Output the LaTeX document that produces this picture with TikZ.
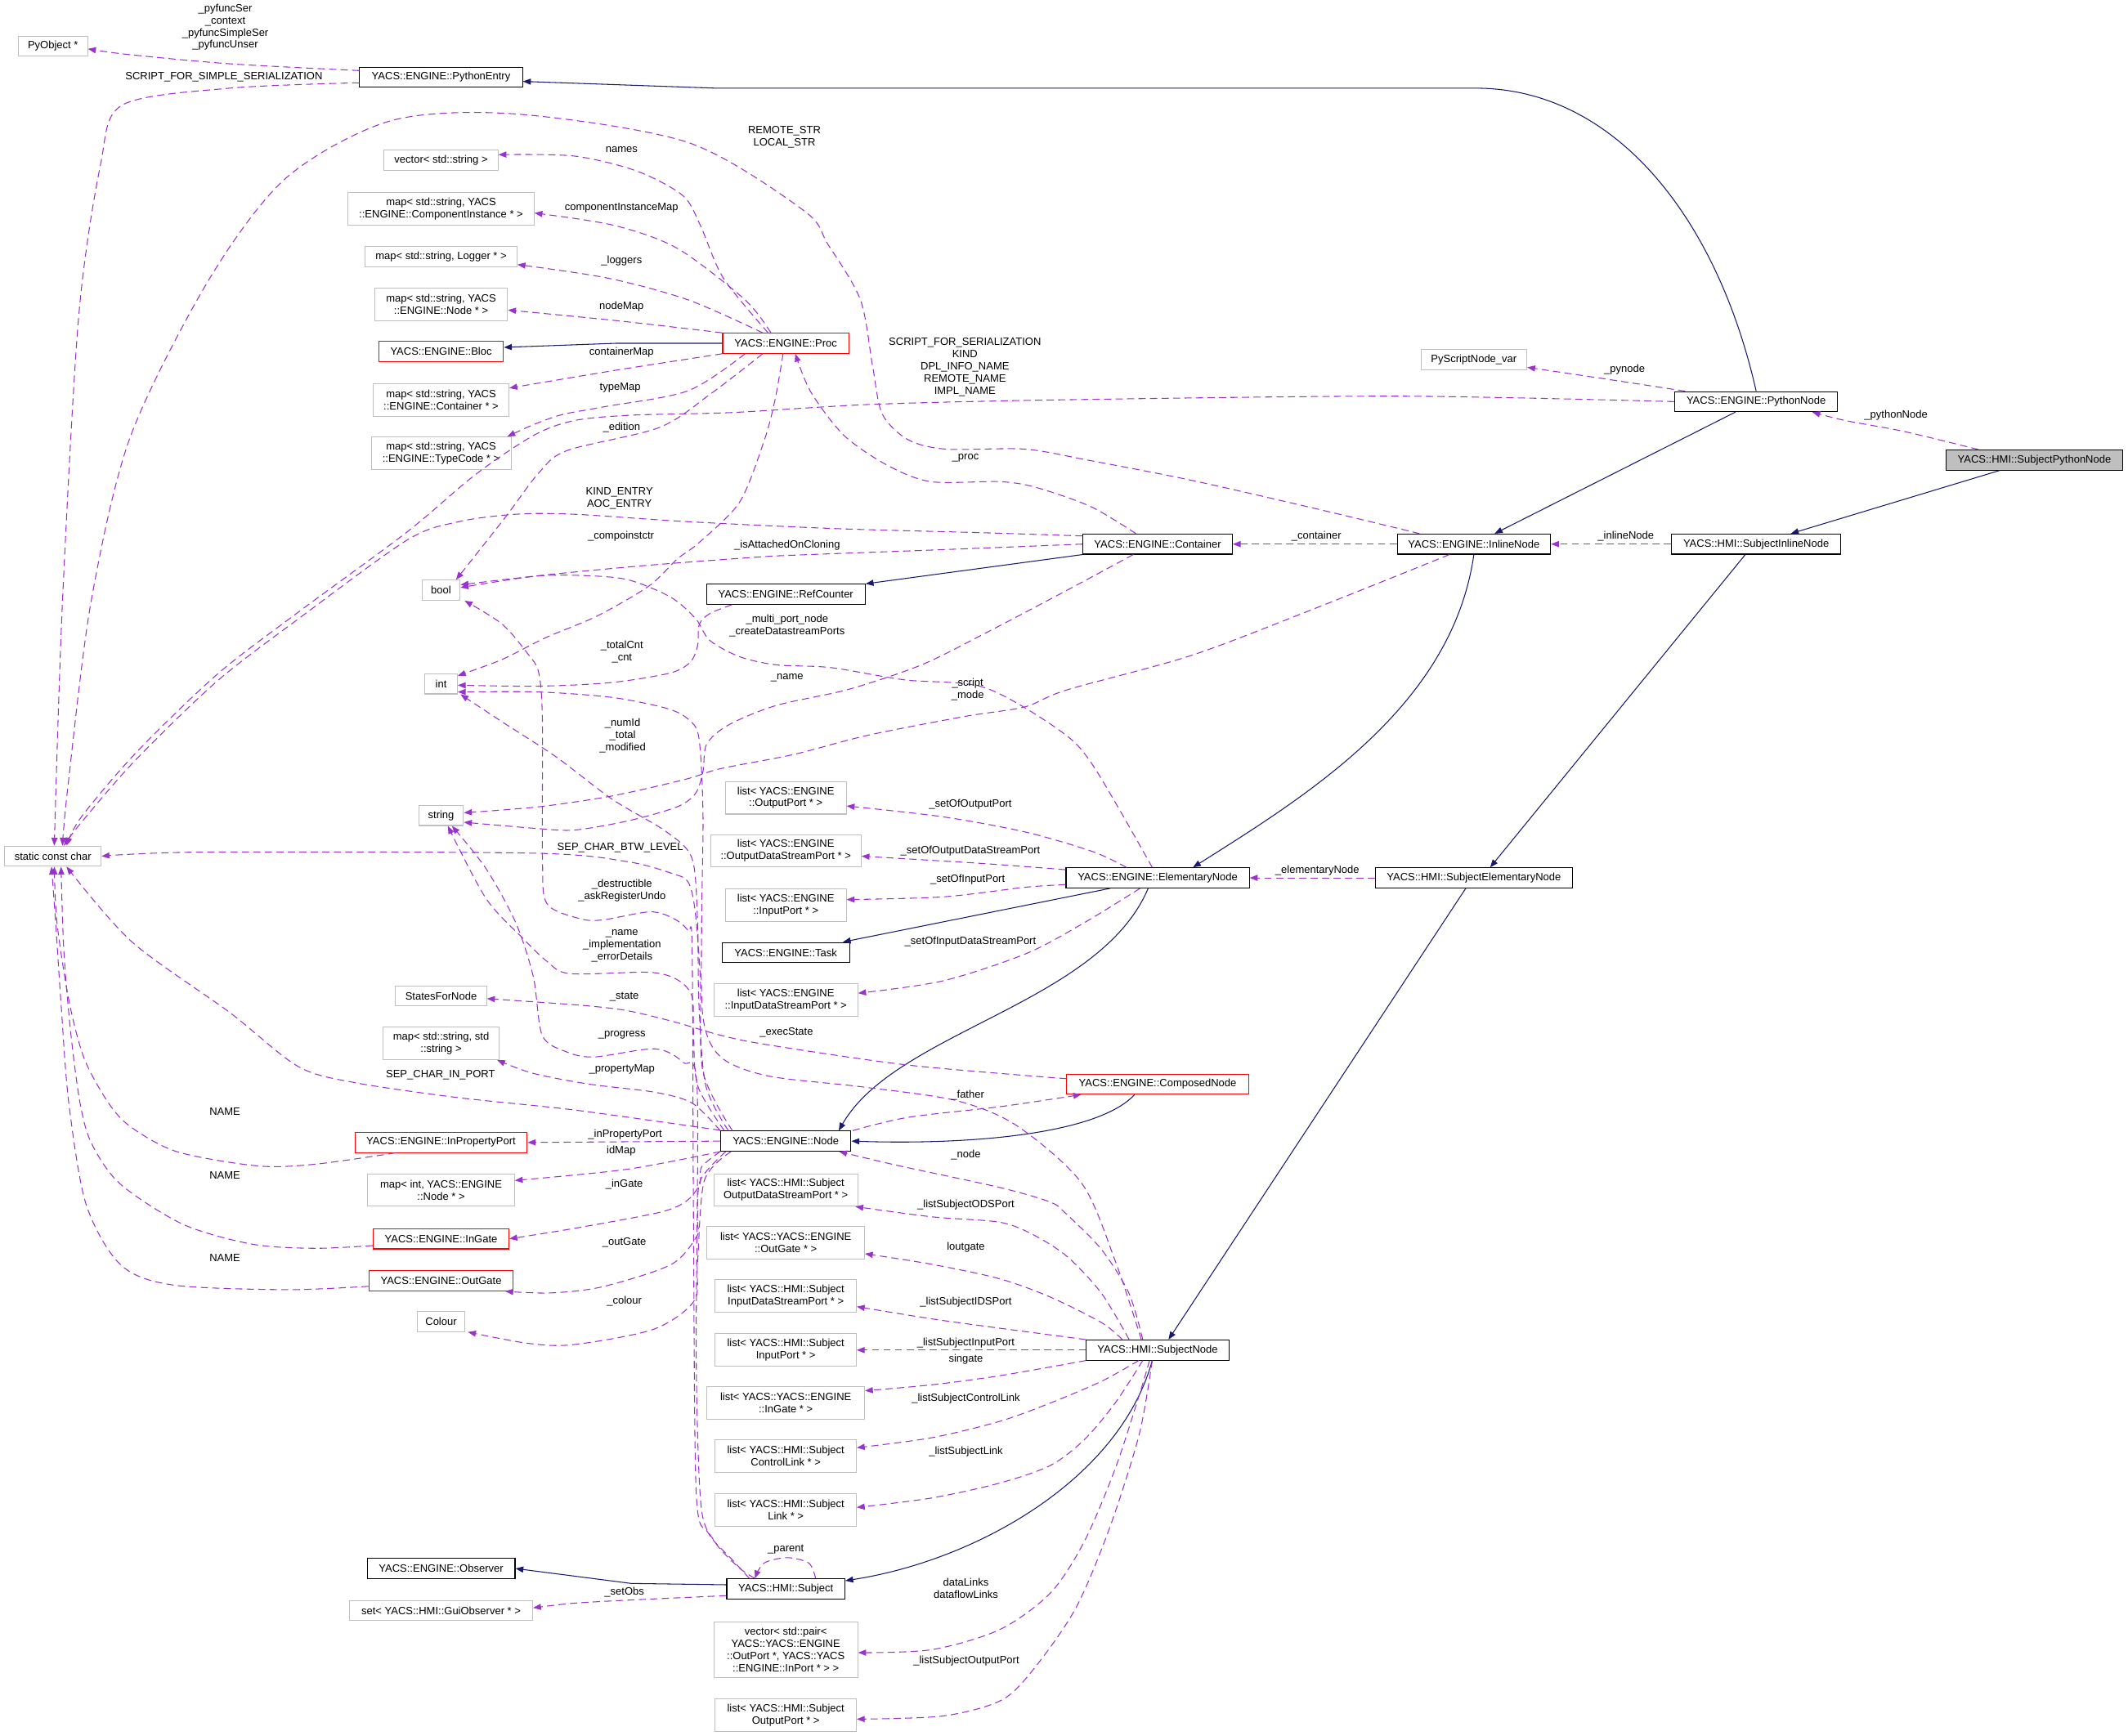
\documentclass[tikz,border=0pt]{standalone}
\usepackage{fontspec}
\setmainfont{Liberation Sans}
\usetikzlibrary{arrows.meta,calc}
\definecolor{inhblue}{HTML}{191970}
\definecolor{usepurple}{HTML}{9A32CD}
\definecolor{extgrey}{HTML}{BFBFBF}
\definecolor{docgrey}{HTML}{BFBFBF}
\newcommand\dox{\fontsize{7.4}{8.5}\selectfont}

\begin{document}
\begin{tikzpicture}[x=0.0332cm, y=-0.0332cm,
    box/.style={draw, fill=white, font=\dox, align=center, inner xsep=1pt, inner ysep=1pt,
                minimum height=14pt, line width=0.6pt},
    cls/.style={box},
    ext/.style={box, draw=extgrey},
    trunc/.style={box, draw=red},
    doc/.style={box, fill=docgrey},
    h2/.style={minimum height=22.6pt},
    h4/.style={minimum height=38.6pt},
    wd/.style={minimum width=#1*0.0332cm},
    lbl/.style={font=\dox, align=center, inner sep=0pt},
    tip/.style={-{Triangle[length=5.5pt,width=4.2pt]}},
    inh/.style={tip, draw=inhblue, line width=0.6pt},
    usage/.style={tip, draw=usepurple, line width=0.6pt, dash pattern=on 5pt off 3pt}]
  \fill[white] (0,0) rectangle (1568,1279);
  \useasboundingbox (0,0) rectangle (1568,1279);

  % left columns
  \node[ext, wd=51] (pyobj) at (39,34) {PyObject *};
  \node[ext, wd=71] (scc) at (39,631) {static const char};
  \node[cls, wd=120] (pyentry) at (325,57) {YACS::ENGINE::PythonEntry};
  \node[ext, wd=84] (vecstr) at (325,118) {vector< std::string >};
  \node[ext, h2, wd=137] (mapci) at (325,154) {map< std::string, YACS\\::ENGINE::ComponentInstance * >};
  \node[ext, wd=112] (maplog) at (325,189) {map< std::string, Logger * >};
  \node[ext, h2, wd=98] (mapnode) at (325,224.5) {map< std::string, YACS\\::ENGINE::Node * >};
  \node[trunc, wd=92] (bloc) at (325,259) {YACS::ENGINE::Bloc};
  \node[ext, h2, wd=100] (mapcont) at (325,295) {map< std::string, YACS\\::ENGINE::Container * >};
  \node[ext, h2, wd=103] (maptc) at (325,334) {map< std::string, YACS\\::ENGINE::TypeCode * >};
  \node[ext, wd=28] (bool) at (325,435) {bool};
  \node[ext, wd=24] (int) at (325,504) {int};
  \node[ext, wd=33] (string) at (325,601) {string};
  \node[ext, wd=67] (states) at (325,734) {StatesForNode};
  \node[ext, h2, wd=86] (mapss) at (325,769) {map< std::string, std\\::string >};
  \node[trunc, wd=127] (inprop) at (325,842) {YACS::ENGINE::InPropertyPort};
  \node[ext, h2, wd=108] (mapid) at (325,877) {map< int, YACS::ENGINE\\::Node * >};
  \node[trunc, wd=100] (ingate) at (325,913) {YACS::ENGINE::InGate};
  \node[trunc, wd=106] (outgate) at (325,944) {YACS::ENGINE::OutGate};
  \node[ext, wd=35] (colour) at (325,974) {Colour};
  \node[cls, wd=109] (observer) at (325,1156) {YACS::ENGINE::Observer};
  \node[ext, wd=135] (setobs) at (325,1187) {set< YACS::HMI::GuiObserver * >};

  % middle column
  \node[trunc, wd=93] (proc) at (579,253) {YACS::ENGINE::Proc};
  \node[cls, wd=117] (refcnt) at (579,438) {YACS::ENGINE::RefCounter};
  \node[ext, h2, wd=89] (lop) at (579,588) {list< YACS::ENGINE\\::OutputPort * >};
  \node[ext, h2, wd=111] (lods) at (579,627) {list< YACS::ENGINE\\::OutputDataStreamPort * >};
  \node[ext, h2, wd=89] (lip) at (579,667) {list< YACS::ENGINE\\::InputPort * >};
  \node[cls, wd=94] (task) at (579,702) {YACS::ENGINE::Task};
  \node[ext, h2, wd=106] (lids) at (579,737) {list< YACS::ENGINE\\::InputDataStreamPort * >};
  \node[cls, wd=96] (enode) at (579,841) {YACS::ENGINE::Node};
  \node[ext, h2, wd=106] (lsods) at (579,877) {list< YACS::HMI::Subject\\OutputDataStreamPort * >};
  \node[ext, h2, wd=116] (lsog) at (579,916) {list< YACS::YACS::ENGINE\\::OutGate * >};
  \node[ext, h2, wd=104] (lsids) at (579,955) {list< YACS::HMI::Subject\\InputDataStreamPort * >};
  \node[ext, h2, wd=104] (lsip) at (579,995) {list< YACS::HMI::Subject\\InputPort * >};
  \node[ext, h2, wd=116] (lsig) at (579,1034) {list< YACS::YACS::ENGINE\\::InGate * >};
  \node[ext, h2, wd=104] (lscl) at (579,1073) {list< YACS::HMI::Subject\\ControlLink * >};
  \node[ext, h2, wd=104] (lsl) at (579,1113) {list< YACS::HMI::Subject\\Link * >};
  \node[cls, wd=87] (subject) at (579,1171) {YACS::HMI::Subject};
  \node[ext, h4, wd=106] (vecpair) at (579,1216) {vector< std::pair<\\YACS::YACS::ENGINE\\::OutPort *, YACS::YACS\\::ENGINE::InPort * > >};
  \node[ext, h2, wd=104] (lsop) at (579,1264) {list< YACS::HMI::Subject\\OutputPort * >};

  % right columns
  \node[cls, wd=110] (container) at (853,401) {YACS::ENGINE::Container};
  \node[cls, wd=135] (elem) at (853,647) {YACS::ENGINE::ElementaryNode};
  \node[trunc, wd=134] (composed) at (853,799) {YACS::ENGINE::ComposedNode};
  \node[cls, wd=105] (subjnode) at (853,995) {YACS::HMI::SubjectNode};
  \node[ext, wd=78] (pyvar) at (1086,265) {PyScriptNode\_var};
  \node[cls, wd=113] (inline) at (1086,401) {YACS::ENGINE::InlineNode};
  \node[cls, wd=145] (subjelem) at (1086,647) {YACS::HMI::SubjectElementaryNode};
  \node[cls, wd=120] (pynode) at (1294,296) {YACS::ENGINE::PythonNode};
  \node[cls, wd=125] (subjinline) at (1294,401) {YACS::HMI::SubjectInlineNode};
  \node[doc, wd=130] (subjpy) at (1499,339) {YACS::HMI::SubjectPythonNode};

  % inheritance
  \draw[inh] (pynode.north) .. controls (1265,160) and (1190,66) .. (1089,65) -- (528,65) -- ($(pyentry.east)+(0,3)$);
  \draw[inh] (subjpy) -- (subjinline);
  \draw[inh] (pynode) -- (inline);
  \draw[inh] (inline.south) .. controls (1070,520) and (965,585) .. ($(elem.north)+(26,0)$);
  \draw[inh] ($(subjinline.south)+(-8,0)$) -- ($(subjelem.north)+(12,0)$);
  \draw[inh] (container.south west) -- (refcnt.north east);
  \draw[inh] ($(elem.south)+(-35,0)$) -- ($(task.north)+(42,0)$);
  \draw[inh] ($(elem.south)+(-7,0)$) .. controls (810,740) and (660,760) .. ($(enode.north)+(39,0)$);
  \draw[inh] ($(composed.south)+(-17,0)$) .. controls (810,835) and (720,844) .. (enode.east);
  \draw[inh] ($(subjelem.south)+(-6,0)$) -- ($(subjnode.north)+(8,0)$);
  \draw[inh] ($(subjnode.south)+(-4,0)$) .. controls (825,1090) and (720,1150) .. ($(subject.east)+(0,-6)$);
  \draw[inh] (proc.west) -- (454,253) -- ($(bloc.east)+(0,-3)$);
  \draw[inh] ($(subject.west)+(0,-3)$) -- (465,1167) -- (observer.east);

  % usage
  \draw[usage] plot[smooth] coordinates {($(pyentry.west)+(0,-5)$) (169,47) (93,40) ($(pyobj.east)+(0,2)$)};
  \draw[usage] plot[smooth] coordinates {($(pyentry.west)+(0,4)$) (169,65) (90,77.5) (74,121.7) (58,233) (46,444) ($(scc.north)+(1,0)$)};
  \draw[usage] plot[smooth] coordinates {($(inline.north)+(-40,0)$) (970,375) (878,354) (801,339) (755,331) (697,331)
      (669,324) (650,305) (643,270) (634,221) (610,180) (592,155) (507,105) (380,84) (288,89) (211,131) (154,206)
      (96,322) (67,444) (50,580) ($(scc.north)+(7,0)$)};
  \draw[usage] plot[smooth] coordinates {(pynode.west) (1033,292) (787,294.6) (643,298) (540,304) (465,306) (423,310)
      (393,321) (350,350) (300,392) (220,451) (160,497) (100,555) (60,602) ($(scc.north)+(10,0)$)};
  \draw[usage] plot[smooth] coordinates {($(container.west)+(0,-6)$) (723.5,392.6) (616,389.6) (507,384.5) (423,379)
      (380,379) (338,384.5) (300,398) (220,456) (160,502) (100,560) (60,606) ($(scc.north)+(8,0)$)};
  \draw[usage] plot[smooth] coordinates {($(proc.north)+(-13,0)$) (533,205) (516,166) (503,144) (469,126) (423,115) ($(vecstr.east)+(0,-4)$)};
  \draw[usage] plot[smooth] coordinates {($(proc.north)+(-11,0)$) (549,221) (499,183) (452,166) ($(mapci.east)+(0,3)$)};
  \draw[usage] plot[smooth] coordinates {($(proc.north)+(-17,0)$) (507,221) (448,205) ($(maplog.east)+(0,6)$)};
  \draw[usage] plot[smooth] coordinates {(proc.north west) (456,236.5) ($(mapnode.east)+(0,4)$)};
  \draw[usage] plot[smooth] coordinates {(proc.south west) (456,272.5) ($(mapcont.east)+(0,-9)$)};
  \draw[usage] plot[smooth] coordinates {($(proc.south)+(-30,0)$) (507,288) (444,300) (414,305.6) (393,313) ($(maptc.north east)+(-3,0)$)};
  \draw[usage] plot[smooth] coordinates {($(proc.south)+(-17,0)$) (524,290) (486,315) (418,332) (397,348.5) (372,381.7) ($(bool.north)+(11,0)$)};
  \draw[usage] plot[smooth] coordinates {($(proc.south)+(-2,0)$) (571,295) (563,325) (545,370) (515,400) (499,412)
      (478,432) (440,454) (402,470) (370,486) ($(int.east)+(0,-6)$)};
  \draw[usage] plot[smooth] coordinates {($(pynode.north west)+(8,0)$) (1181,279) ($(pyvar.south east)+(0,-2)$)};
  \draw[usage] plot[smooth] coordinates {($(subjpy.north west)+(24,0)$) (1403,318) (1360,310) ($(pynode.south east)+(-19,0)$)};
  \draw[usage] plot[smooth] coordinates {($(container.north)+(-16,0)$) (804,373.5) (764,359.4) (737,355) (686,355)
      (654,343) (622,321) (597.5,289) ($(proc.south)+(7,0)$)};
  \draw[usage] plot[smooth] coordinates {(container.west) (697,405) (589.5,409) (558,410.6) (477.7,416.6) (402,423.7) ($(bool.east)+(0,-4)$)};
  \draw[usage] plot[smooth] coordinates {($(elem.north)+(-4,0)$) (805.6,564.5) (781,538.5) (725.6,506.8) (666,501)
      (612,492) (572,490) (545,484) (523,472) (512.6,456) (494,440) (461.5,427) (424,424) (391.6,425) ($(bool.east)+(0,-2)$)};
  \draw[usage] plot[smooth] coordinates {($(refcnt.south west)+(19,0)$) (523.4,452) (515.3,460) (514,476) (508.6,488)
      (493.8,496) (450.8,503) (397,505.7) ($(int.east)+(0,1)$)};
  \draw[usage] plot[smooth] coordinates {($(subjnode.north)+(-12,0)$) (822,930) (797,872) (749,829.5) (704,811) (635,801)
      (566,793) (531,779) (518,750) (517,680) (518,600) (515,544) (507,530) (491,522) (451,514) (397,510) ($(int.east)+(0,6)$)};
  \draw[usage] plot[smooth] coordinates {($(enode.north west)+(6,0)$) (520,800) (515,740) (514,680) (510,633) (491,613)
      (451,589) (410,558) (370,532) ($(int.south east)+(2,0)$)};
  \draw[usage] plot[smooth] coordinates {($(inline.south)+(-18,0)$) (970,448) (878,483) (786,508.5) (755,521) (711,528)
      (639,542) (585,556) (531,566.5) (504.5,574.5) (451,586.6) (397,594.6) ($(string.east)+(0,-2)$)};
  \draw[usage] plot[smooth] coordinates {($(container.south)+(-18,0)$) (785.5,435.4) (724,467.7) (679,490) (625.5,508)
      (571.7,520) (536.8,534.3) (520.7,548.4) (518,568.5) (512.6,584.6) (499,594.6) (464,604.7) (424,611.7) (397,610.7)
      ($(string.east)+(0,5)$)};
  \draw[usage] plot[smooth] coordinates {($(enode.north west)+(3,0)$) (514,800) (511,760) (510,734.7) (500,722.6)
      (479,716.6) (420,717.6) (403,708.5) (385.7,692) (358,662) ($(string.south)+(5,0)$)};
  \draw[usage] plot[smooth] coordinates {($(subject.north west)+(21,0)$) (544,1155) (526.5,1136) (516.5,1109) (513,1000)
      (513.7,803) (503.3,783) (482.6,773) (437.6,779) (416.8,775) (399.5,763) (393,720) (380,680) (358,640) ($(string.south)+(8,0)$)};
  \draw[usage] plot[smooth] coordinates {($(subject.north west)+(17,0)$) (540,1150) (522,1130) (513,1100) (511,900)
      (510,700) (507,686) (496.4,677) (479,672) (444,678) (427,677) (403,666) (399.7,633) (399.7,532) (397,496) (389,482)
      (370,460) ($(bool.south east)+(3,0)$)};
  \draw[usage] plot[smooth] coordinates {($(composed.west)+(0,-4)$) (669.4,785) (565.6,770) (531,763) (496.4,753)
      (461.8,744.8) (427,740.8) ($(states.east)+(0,2)$)};
  \draw[usage] plot[smooth] coordinates {(enode.north west) (510,813) (482.6,805) (434,799) (392.6,791) ($(mapss.south east)+(-2,0)$)};
  \draw[usage] plot[smooth] coordinates {($(enode.north west)+(9,0)$) (518,790) (516,720) (512,670) (507,650) (496,644)
      (462,635) (393,628.8) (150,628) (scc.east)};
  \draw[usage] plot[smooth] coordinates {($(enode.west)+(0,-8)$) (422.6,818) (338,809) (262,798) (219.7,786) (169,746)
      (97,694) ($(scc.south)+(10,0)$)};
  \draw[usage] (enode.west) -- (inprop.east);
  \draw[usage] plot[smooth] coordinates {(enode.south west) (461.8,861.8) ($(mapid.east)+(0,-7)$)};
  \draw[usage] plot[smooth] coordinates {(enode.south west) (517,860) (515.6,872.7) (506,885) (486,893.5) (422.6,905.4) (ingate.east)};
  \draw[usage] plot[smooth] coordinates {($(enode.south west)+(4,0)$) (516,870) (514,900) (513.5,911) (494.4,932)
      (443.7,948.4) (405.7,952.9) ($(outgate.south east)+(-6,0)$)};
  \draw[usage] plot[smooth] coordinates {($(enode.south west)+(8,0)$) (519,870) (514,930) (511.4,958.8) (481.8,979.6)
      (422.6,991) (388.8,990) ($(colour.south east)+(2,0)$)};
  \draw[usage] plot[smooth] coordinates {($(inprop.south west)+(30,0)$) (232.4,858) (190,859.3) (131,849) (97,831)
      (80,813) (62,780) (50.7,737) (42,680) ($(scc.south)+(1,0)$)};
  \draw[usage] plot[smooth] coordinates {($(ingate.west)+(0,5)$) (232,920) (186,917) (135,902.4) (88.7,872.7) (67.6,843)
      (59,813) (52,760) (47,700) ($(scc.south)+(6,0)$)};
  \draw[usage] plot[smooth] coordinates {($(outgate.west)+(0,4)$) (211,950.5) (127,947) (88.7,932) (63.4,887.5)
      (50.7,813) (45,740) (41,680) ($(scc.south)+(-1,0)$)};
  \draw[usage] plot[smooth] coordinates {($(enode.north east)+(1,0)$) (669,823.5) (738.6,815.4) ($(composed.south west)+(11,0)$)};
  \draw[usage] plot[smooth] coordinates {($(subjnode.north)+(-11,0)$) (831.8,953) (811.7,921) (786,895) (774,886)
      (736.7,875.2) (661.6,859) ($(enode.south east)+(-9,0)$)};
  \draw[usage] plot[smooth] coordinates {($(subjnode.north)+(-21,0)$) (811.7,953.3) (786.7,926.4) (761.7,910.2)
      (736.7,900.8) (686.6,896.8) ($(lsods.south east)+(-2,0)$)};
  \draw[usage] plot[smooth] coordinates {($(subjnode.north)+(-26,0)$) (811.7,974.8) (774,956) (736.7,942.5) (686.6,931.8) ($(lsog.east)+(0,8)$)};
  \draw[usage] plot[smooth] coordinates {(subjnode.north west) (736.7,978.9) (686.6,972) ($(lsids.east)+(0,8)$)};
  \draw[usage] (subjnode.west) -- (lsip.east);
  \draw[usage] plot[smooth] coordinates {(subjnode.south west) (736.7,1013.9) (686.6,1020.6) ($(lsig.east)+(0,-9)$)};
  \draw[usage] plot[smooth] coordinates {($(subjnode.south)+(-14,0)$) (811.7,1018) (774,1034) (736.7,1047.5) (686.6,1059.6) ($(lscl.east)+(0,-6)$)};
  \draw[usage] plot[smooth] coordinates {($(subjnode.south)+(-11,0)$) (821.7,1034) (799,1061) (774,1080) (736.7,1093)
      (686.6,1104) ($(lsl.east)+(0,-2)$)};
  \draw[usage] plot[smooth] coordinates {($(subjnode.south)+(-6,0)$) (839.3,1028.7) (821.7,1082.5) (799,1136) (774,1174)
      (736.7,1201) (686.6,1215.8) ($(vecpair.east)+(0,2)$)};
  \draw[usage] plot[smooth] coordinates {($(subjnode.south)+(-4,0)$) (839.5,1056.8) (818,1125) (793,1184.6) (762.5,1229)
      (738,1253) (694.8,1264.7) ($(lsop.east)+(0,3)$)};
  \draw[usage] plot[smooth] coordinates {($(subject.north)+(22,0)$) (596,1152) (580,1148) (563,1152) ($(subject.north west)+(21,0)$)};
  \draw[usage] plot[smooth] coordinates {($(subject.west)+(0,5)$) (465,1179.2) (422.6,1181.6) ($(setobs.east)+(0,-2)$)};
  \draw[usage] (inline) -- (container);
  \draw[usage] (subjinline) -- (inline);
  \draw[usage] (subjelem) -- (elem);
  \draw[usage] plot[smooth] coordinates {($(elem.north)+(-23,0)$) (805.6,627.8) (756.4,613.4) (694.8,602) ($(lop.east)+(0,6)$)};
  \draw[usage] plot[smooth] coordinates {($(elem.west)+(0,-6)$) (725.6,636.5) ($(lods.east)+(0,4)$)};
  \draw[usage] plot[smooth] coordinates {($(elem.west)+(0,5)$) (756.4,653.8) (694.8,661) ($(lip.east)+(0,-4)$)};
  \draw[usage] plot[smooth] coordinates {($(elem.south)+(-13,0)$) (799.5,679.7) (756.4,702.7) (694.8,722.9) ($(lids.east)+(0,-5)$)};

  % edge labels
  \node[lbl] (lb-pyfunc) at (166,20) {\_pyfuncSer\\\_context\\\_pyfuncSimpleSer\\\_pyfuncUnser};
  \node[lbl] (lb-simple) at (165,57) {SCRIPT\_FOR\_SIMPLE\_SERIALIZATION};
  \node[lbl] (lb-remote) at (578,101) {REMOTE\_STR\\LOCAL\_STR};
  \node[lbl] (lb-names) at (458,110) {names};
  \node[lbl] (lb-compmap) at (458,153.5) {componentInstanceMap};
  \node[lbl] (lb-loggers) at (458,192) {\_loggers};
  \node[lbl] (lb-nodemap) at (458,225.7) {nodeMap};
  \node[lbl] (lb-contmap) at (458,260) {containerMap};
  \node[lbl] (lb-typemap) at (457,286) {typeMap};
  \node[lbl] (lb-edition) at (458,315) {\_edition};
  \node[lbl] (lb-script) at (711,270.5) {SCRIPT\_FOR\_SERIALIZATION\\KIND\\DPL\_INFO\_NAME\\REMOTE\_NAME\\IMPL\_NAME};
  \node[lbl] (lb-pynode) at (1197,272.5) {\_pynode};
  \node[lbl] (lb-pythonnode) at (1397,306) {\_pythonNode};
  \node[lbl] (lb-proc) at (711.4,337.3) {\_proc};
  \node[lbl] (lb-kind) at (456.4,367.5) {KIND\_ENTRY\\AOC\_ENTRY};
  \node[lbl] (lb-compoinst) at (457.5,395.5) {\_compoinstctr};
  \node[lbl] (lb-attached) at (580,401.7) {\_isAttachedOnCloning};
  \node[lbl] (lb-container) at (970,395.5) {\_container};
  \node[lbl] (lb-inlinenode) at (1198,395.5) {\_inlineNode};
  \node[lbl] (lb-multiport) at (580,461.2) {\_multi\_port\_node\\\_createDatastreamPorts};
  \node[lbl] (lb-cnt) at (458.3,480.7) {\_totalCnt\\\_cnt};
  \node[lbl] (lb-contname) at (580,499.4) {\_name};
  \node[lbl] (lb-scriptmode) at (713,508.3) {\_script\\\_mode};
  \node[lbl] (lb-numid) at (458.8,542.3) {\_numId\\\_total\\\_modified};
  \node[lbl] (lb-setop) at (715,592.7) {\_setOfOutputPort};
  \node[lbl] (lb-setods) at (715,627) {\_setOfOutputDataStreamPort};
  \node[lbl] (lb-btwlevel) at (457,625) {SEP\_CHAR\_BTW\_LEVEL};
  \node[lbl] (lb-setip) at (713,648) {\_setOfInputPort};
  \node[lbl] (lb-destruct) at (458.3,656.5) {\_destructible\\\_askRegisterUndo};
  \node[lbl] (lb-setids) at (715,694) {\_setOfInputDataStreamPort};
  \node[lbl] (lb-nodename) at (458.3,697.3) {\_name\\\_implementation\\\_errorDetails};
  \node[lbl] (lb-state) at (460,734.5) {\_state};
  \node[lbl] (lb-execstate) at (579.5,761) {\_execState};
  \node[lbl] (lb-progress) at (458.3,763) {\_progress};
  \node[lbl] (lb-propmap) at (458.3,788) {\_propertyMap};
  \node[lbl] (lb-inport) at (324.6,792) {SEP\_CHAR\_IN\_PORT};
  \node[lbl] (lb-father) at (713,807) {\_father};
  \node[lbl] (lb-name1) at (165.7,819.4) {NAME};
  \node[lbl] (lb-name2) at (165.7,866.5) {NAME};
  \node[lbl] (lb-name3) at (165.7,926.8) {NAME};
  \node[lbl] (lb-inprop) at (460.6,836) {\_inPropertyPort};
  \node[lbl] (lb-idmap) at (457.7,848) {idMap};
  \node[lbl] (lb-ingate) at (460,872.7) {\_inGate};
  \node[lbl] (lb-outgate) at (460,916) {\_outGate};
  \node[lbl] (lb-colour) at (460,958.8) {\_colour};
  \node[lbl] (lb-node) at (711.7,851) {\_node};
  \node[lbl] (lb-odsport) at (711.7,888) {\_listSubjectODSPort};
  \node[lbl] (lb-loutgate) at (711.7,919.6) {loutgate};
  \node[lbl] (lb-idsport) at (711.7,959.5) {\_listSubjectIDSPort};
  \node[lbl] (lb-inputport) at (711.7,989.6) {\_listSubjectInputPort};
  \node[lbl] (lb-singate) at (711.7,1001.7) {singate};
  \node[lbl] (lb-ctrllink) at (711.7,1030.5) {\_listSubjectControlLink};
  \node[lbl] (lb-link) at (711.7,1069.8) {\_listSubjectLink};
  \node[lbl] (lb-parent) at (579,1142) {\_parent};
  \node[lbl] (lb-setobs) at (460,1173.3) {\_setObs};
  \node[lbl] (lb-datalinks) at (711.7,1170.7) {dataLinks\\dataflowLinks};
  \node[lbl] (lb-outputport) at (712,1224) {\_listSubjectOutputPort};
  \node[lbl] (lb-elemnode) at (970.6,641.4) {\_elementaryNode};
\end{tikzpicture}
\end{document}
